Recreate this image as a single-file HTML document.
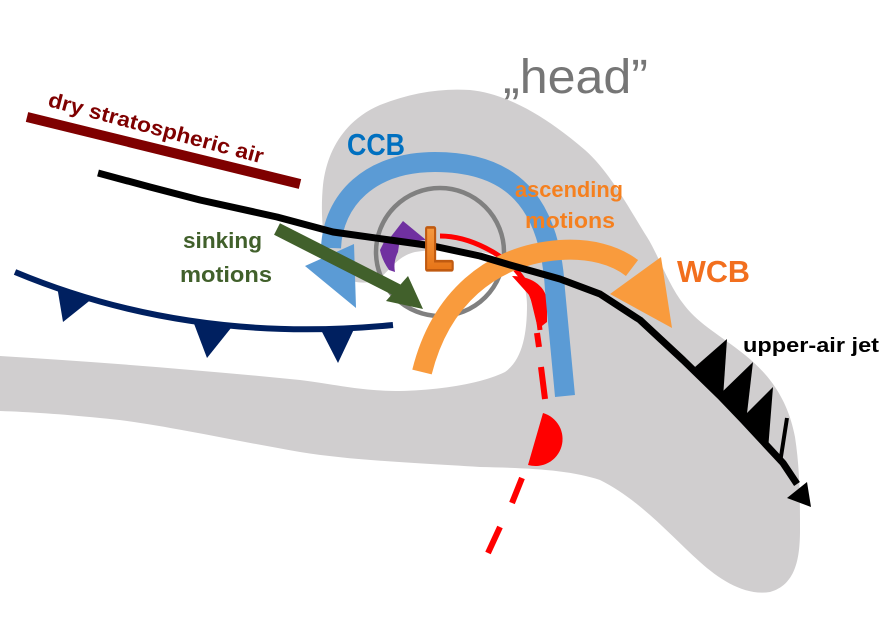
<!DOCTYPE html>
<html><head><meta charset="utf-8"><style>
html,body{margin:0;padding:0;background:#fff;}
svg{display:block;}
text{font-family:"Liberation Sans",Arial,sans-serif;}
</style></head><body>
<svg width="896" height="629" viewBox="0 0 896 629" xmlns="http://www.w3.org/2000/svg">
<defs>
<linearGradient id="lg" x1="0" y1="0" x2="0" y2="1">
<stop offset="0" stop-color="#F9A24A"/><stop offset="1" stop-color="#E26A0C"/>
</linearGradient>
</defs>
<rect width="896" height="629" fill="#fff"/>
<!-- gray cloud shape -->
<path fill="#D0CECF" d="M0,356 C100,362 200,370 300,380 C340,385 360,391 400,391 C440,390 480,384 505,372 C522,360 527,335 527,305 C527,285 518,265 500,257 C480,249 440,248 415,252 C398,256 392,268 380,278 C368,286 345,284 333,268 C323,250 320,215 323,185 C327,150 345,120 380,105 C410,93 440,88 470,90 C510,94 550,120 585,150 C610,172 630,210 647,237 C660,258 668,285 685,306 C700,325 720,335 745,355 C770,375 788,400 795,437 C800,470 800,500 800,530 C800,560 795,585 770,592 C745,596 720,580 700,562 C670,535 640,500 600,480 C570,470 530,468 480,467 C400,462 350,460 300,452 C230,440 150,422 100,418 C60,414 30,412 0,411 Z"/>
<!-- head text -->
<text x="503" y="93" font-size="48" fill="#767676" textLength="145" lengthAdjust="spacingAndGlyphs">„head”</text>
<!-- gray circle -->
<circle cx="440" cy="252" r="64" fill="none" stroke="#808080" stroke-width="4.5"/>
<!-- dry stratospheric line -->
<line x1="27" y1="117" x2="300" y2="184" stroke="#7F0000" stroke-width="10"/>
<text transform="translate(47,106) rotate(15)" font-size="21" font-weight="bold" fill="#7F0000" textLength="222" lengthAdjust="spacingAndGlyphs">dry stratospheric air</text>
<!-- cold front -->
<path d="M15,272 Q190,345 393,325" fill="none" stroke="#002060" stroke-width="6"/>
<polygon points="57,286 93,298 63,322" fill="#002060"/>
<polygon points="193,321 231,328 207,358" fill="#002060"/>
<polygon points="320,328 355,327 338,363" fill="#002060"/>
<!-- red warm front -->
<path d="M440,236 C470,236 505,255 520,275 C532,290 538,310 540,330" fill="none" stroke="#FF0000" stroke-width="5"/>
<path d="M512,276 C530,276 545,285 547,300 L547,322 L538,329 L530,296 Z" fill="#FF0000"/>
<g stroke="#FF0000" stroke-width="6" fill="none">
<line x1="537" y1="333" x2="539" y2="347"/>
<line x1="541" y1="367" x2="545" y2="399"/>
<line x1="522" y1="478" x2="512" y2="503"/>
<line x1="500" y1="527" x2="488" y2="553"/>
</g>
<path d="M543,413 A27,27 0 0 1 528,465 Z" fill="#FF0000"/>
<!-- purple occlusion -->
<path d="M386,243 L403,221 L426,240 Z" fill="#7030A0"/>
<path d="M384,242 L400,238 L398,252 Q393,262 395,272 L389,270 Q382,260 380,250 Z" fill="#7030A0"/>
<!-- CCB blue arc -->
<path d="M565,396 L555,290 C550,200 510,162 435,162 C370,162 333,200 331,248" fill="none" stroke="#5B9BD5" stroke-width="20"/>
<polygon points="305,266 354,244 356,308" fill="#5B9BD5"/>
<text x="347" y="155" font-size="31" font-weight="bold" fill="#0070C0" textLength="58" lengthAdjust="spacingAndGlyphs">CCB</text>
<!-- WCB orange arc -->
<path d="M422,372 C440,300 490,255 560,250 C590,248 615,255 632,268" fill="none" stroke="#F99B3D" stroke-width="20"/>
<polygon points="610,294 661,257 672,328" fill="#F99B3D"/>
<text x="677" y="282" font-size="31" font-weight="bold" fill="#F26F1E" textLength="73" lengthAdjust="spacingAndGlyphs">WCB</text>
<text x="515" y="197" font-size="22" font-weight="bold" fill="#F5801F" textLength="108" lengthAdjust="spacingAndGlyphs">ascending</text>
<text x="525" y="228" font-size="22" font-weight="bold" fill="#F5801F" textLength="90" lengthAdjust="spacingAndGlyphs">motions</text>
<!-- green sinking arrow -->
<line x1="277" y1="229" x2="399" y2="291" stroke="#41602B" stroke-width="13"/>
<polygon points="386,301 408,276 423,309" fill="#41602B"/>
<text x="183" y="248" font-size="22" font-weight="bold" fill="#41602B" textLength="79" lengthAdjust="spacingAndGlyphs">sinking</text>
<text x="180" y="282" font-size="22" font-weight="bold" fill="#41602B" textLength="92" lengthAdjust="spacingAndGlyphs">motions</text>
<!-- jet -->
<polyline points="98,173 150,187 200,200 277,217 333,232 390,240 433,246 480,256 510,265 560,279 600,294 640,320 683,360 720,396 743,420 783,463 797,484" fill="none" stroke="#000" stroke-width="7" stroke-linejoin="round"/>
<polygon points="811,507 807,482 787,498" fill="#000"/>
<polygon points="695,367 727,339 723,398" fill="#000"/>
<polygon points="720,394 753,362 746,422" fill="#000"/>
<polygon points="742,418 773,387 768,450" fill="#000"/>
<line x1="780" y1="463" x2="787" y2="418" stroke="#000" stroke-width="4"/>
<text x="743" y="352" font-size="20" font-weight="bold" fill="#000" textLength="136" lengthAdjust="spacingAndGlyphs">upper-air jet</text>
<!-- L -->
<text transform="translate(424,269) scale(0.85,1.05)" font-size="56" font-weight="bold" fill="url(#lg)" stroke="#C05A10" stroke-width="5" stroke-linejoin="round" paint-order="stroke">L</text>
</svg>
</body></html>
